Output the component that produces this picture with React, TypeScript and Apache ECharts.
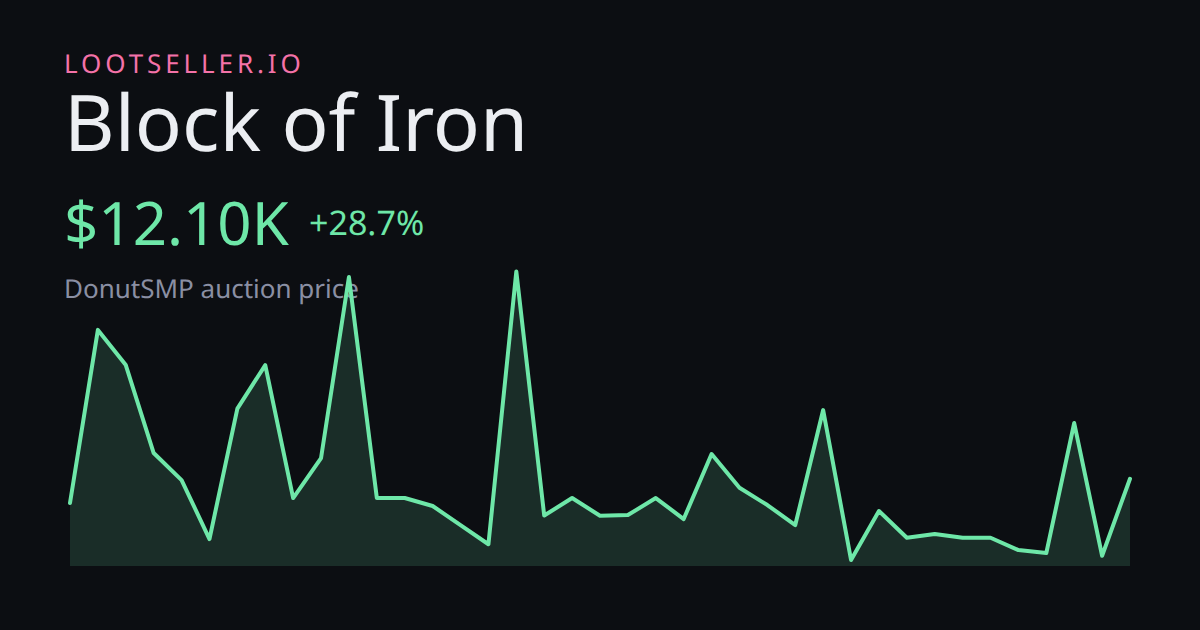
import React, { useEffect, useRef } from "react";
import * as echarts from "echarts";

const kicker = "LOOTSELLER.IO";
const title = "Block of Iron";
const priceLabel = "$12.10K";
const changeLabel = "+28.7%";
const subtitle = "DonutSMP auction price";

const prices = [
  9.4, 28.1, 24.3, 14.8, 11.88, 5.51, 19.6, 24.3, 9.94, 14.26, 33.81, 9.94, 9.94,
  9.08, 7.02, 4.95, 34.4, 8.05, 9.94, 8.03, 8.1, 9.94, 7.67, 14.69, 11.05, 9.18, 7.02,
  19.44, 3.25, 8.54, 5.65, 6.05, 5.65, 5.65, 4.32, 4.0, 18.04, 3.71, 12.02,
];
const indices = prices.map((_, i) => String(i));

const BG = "#0c0e12";
const GREEN = "#6ee7a8";
const FONT = "'Noto Sans'";

export default function App() {
  const ref = useRef<HTMLDivElement>(null);
  useEffect(() => {
    document.body.style.margin = "0";
    document.body.style.background = BG;
    const chart = echarts.init(ref.current!, undefined, { renderer: "svg", width: 1200, height: 630 });
    chart.setOption({
      animation: false,
      backgroundColor: BG,
      grid: { left: 70, right: 70, top: 270, bottom: 64 },
      xAxis: { type: "category", data: indices, boundaryGap: false, show: false },
      yAxis: { type: "value", min: 2.6, max: 34.568, show: false },
      tooltip: { show: false },
      graphic: [
        { type: "text", x: 64, y: 50, z: 0, style: { text: kicker, font: `400 26px ${FONT}`, fill: "#f472a8" } },
        { type: "text", x: 64, y: 82, z: 0, style: { text: title, font: `400 78px ${FONT}`, fill: "#eceef2" } },
        { type: "text", x: 64, y: 192, z: 0, style: { text: priceLabel, font: `400 60px ${FONT}`, fill: GREEN } },
        { type: "text", x: 309, y: 205, z: 0, style: { text: changeLabel, font: `400 34px ${FONT}`, fill: GREEN } },
        { type: "text", x: 64, y: 275, z: 0, style: { text: subtitle, font: `400 26px ${FONT}`, fill: "#8a8fa3" } },
      ],
      series: [
        {
          type: "line",
          data: prices,
          symbol: "none",
          clip: false,
          smooth: false,
          lineStyle: { color: GREEN, width: 4, cap: "round", join: "round" },
          areaStyle: { color: GREEN, opacity: 0.15, origin: "start" },
        },
      ],
    });
    ref.current!.querySelectorAll("text").forEach((t) => {
      if (t.textContent === kicker) t.style.letterSpacing = "3.9px";
    });
    return () => chart.dispose();
  }, []);
  return (
    <div
      ref={ref}
      style={{ position: "absolute", left: 0, top: 0, width: 1200, height: 630, textRendering: "geometricPrecision" }}
    />
  );
}
